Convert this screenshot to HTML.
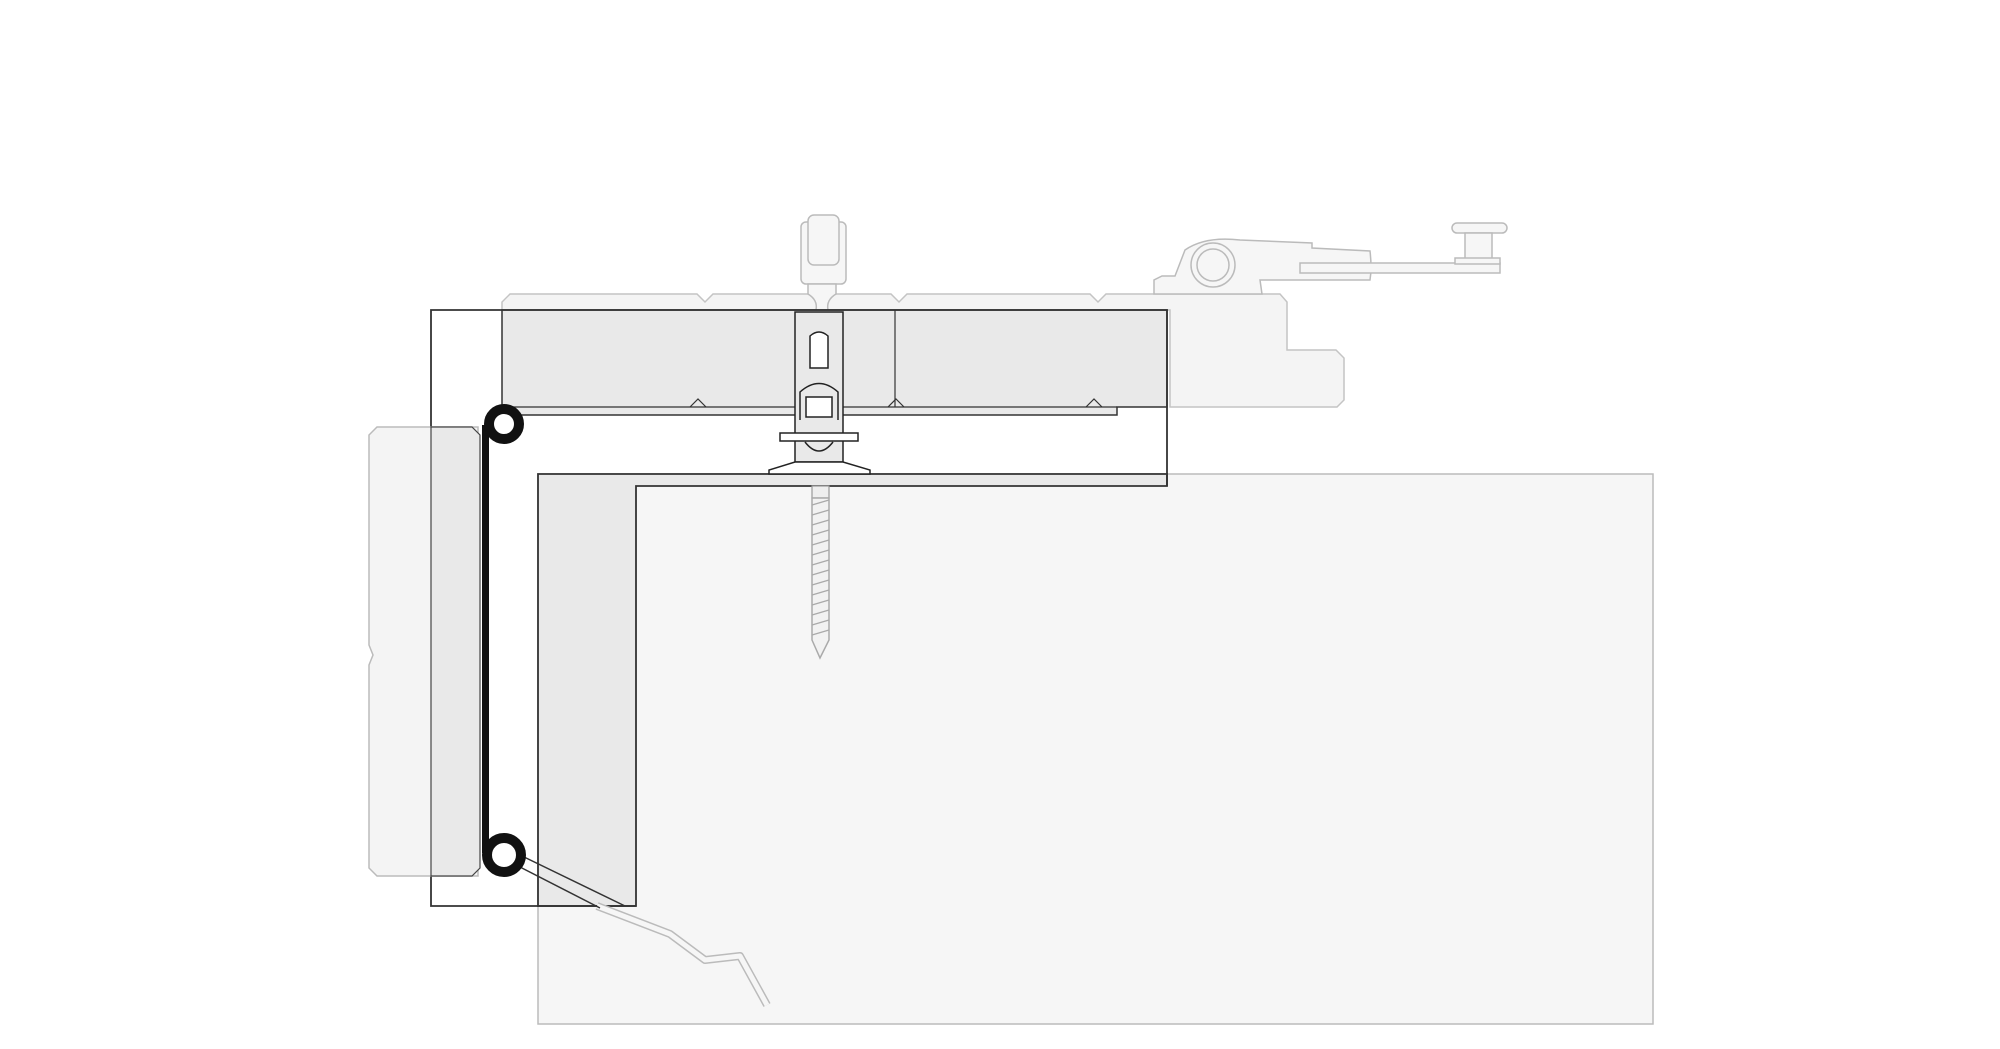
<!DOCTYPE html>
<html><head><meta charset="utf-8"><style>html,body{margin:0;padding:0;background:#fff}svg{display:block}</style></head>
<body>
<svg width="2000" height="1049" viewBox="0 0 2000 1049" xmlns="http://www.w3.org/2000/svg">
<!-- big light wall -->
<rect x="538" y="474" width="1115" height="550" fill="#f6f6f6" stroke="#bbb" stroke-width="1.5"/>
<!-- ghost top panel -->
<path d="M510 294 L697 294 L705 302 L713 294 L891 294 L899 302 L907 294 L1090 294 L1098 302 L1106 294 L1280 294 L1287 302 L1287 350 L1336 350 L1344 358 L1344 400 L1337 407 L1170 407 L1170 310 L502 310 L502 302 Z" fill="#f4f4f4" stroke="#c4c4c4" stroke-width="1.5"/>
<!-- hinge ghost -->
<g fill="#f6f6f6" stroke="#bbb" stroke-width="1.5">
<path d="M1154 294 L1154 280 L1162 276 L1175 276 L1185 250 Q1205 236 1240 240 L1312 243 L1312 248 L1370 251 Q1372 268 1370 280 L1260 280 L1262 294 Z"/>
<circle cx="1213" cy="265" r="22"/><circle cx="1213" cy="265" r="16"/>
<rect x="1300" y="263" width="200" height="10"/>
<rect x="1452" y="223" width="55" height="10" rx="5"/>
<rect x="1465" y="233" width="27" height="28"/>
<rect x="1455" y="258" width="45" height="6"/>
<rect x="801" y="222" width="45" height="62" rx="5"/>
<rect x="808" y="215" width="31" height="50" rx="6"/>
<path d="M808 284 L836 284 L836 294 Q826 300 828 310 L816 310 Q818 300 808 294 Z"/>
</g>
<!-- top panel dark -->
<path d="M502 310 L1167 310 L1167 407 L1117 407 L1117 415 L510 415 L502 407 Z" fill="#e9e9e9" stroke="#333" stroke-width="1.5"/>
<line x1="502" y1="407" x2="1117" y2="407" stroke="#333" stroke-width="1.2"/>
<path d="M690 407 L698 399 L706 407 M888 407 L896 399 L904 407 M1086 407 L1094 399 L1102 407" fill="none" stroke="#333" stroke-width="1.2"/>
<line x1="895" y1="310" x2="895" y2="407" stroke="#333" stroke-width="1.2"/>
<!-- inner L -->
<path d="M538 474 L1167 474 L1167 486 L636 486 L636 906 L538 906 Z" fill="#e9e9e9" stroke="#333" stroke-width="1.8"/>
<!-- outer frame (open) -->
<path d="M1167 486 L1167 310 L431 310 L431 906 L636 906" fill="none" stroke="#333" stroke-width="1.8"/>
<!-- left ghost panel -->
<path d="M377 427 L478 427 L478 876 L377 876 L369 868 L369 665 L373 655 L369 645 L369 435 Z" fill="#f4f4f4" stroke="#bbb" stroke-width="1.5"/>
<path d="M431 427 L472 427 L480 435 L480 868 L472 876 L431 876 Z" fill="#e9e9e9" stroke="#444" stroke-width="1.2"/>
<!-- spring wire ghost -->
<path d="M597 906 L670 934 L705 960 L740 956 L767 1005" fill="none" stroke="#bbb" stroke-width="8" stroke-linejoin="round"/>
<path d="M597 906 L670 934 L705 960 L740 956 L767 1005" fill="none" stroke="#f6f6f6" stroke-width="5" stroke-linejoin="round"/>
<path d="M522 856 L625 906 M518 866 L600 908" stroke="#333" stroke-width="1.5" fill="none"/>
<!-- black bar & circles -->
<rect x="482" y="425" width="7" height="428" fill="#111"/>
<circle cx="504" cy="424" r="15" fill="#fff" stroke="#111" stroke-width="10"/>
<circle cx="504" cy="855" r="17" fill="#fff" stroke="#111" stroke-width="10"/>
<!-- bracket -->
<g fill="#e9e9e9" stroke="#222" stroke-width="1.5">
<rect x="795" y="312" width="48" height="150" fill="#e9e9e9"/>
<path d="M810 368 L810 336 Q819 328 828 336 L828 368 Z" fill="#fff"/>
<path d="M800 420 L800 392 Q819 375 838 392 L838 420" fill="none"/>
<rect x="806" y="397" width="26" height="20" fill="#fff"/>
<rect x="780" y="433" width="78" height="8" fill="#fff"/>
<path d="M805 442 Q819 460 833 442" fill="none"/>
<path d="M795 462 L843 462 L870 470 L870 474 L769 474 L769 470 Z" fill="#fff"/>
</g>
<!-- screw -->
<rect x="812" y="486" width="17" height="12" fill="#eee" stroke="#999" stroke-width="1.2"/>
<path d="M812 498 L829 498 L829 640 L820 658 L812 640 Z" fill="#f2f2f2" stroke="#aaa" stroke-width="1.5"/>
<path d="M812 505 L829 500 M812 515 L829 510 M812 525 L829 520 M812 535 L829 530 M812 545 L829 540 M812 555 L829 550 M812 565 L829 560 M812 575 L829 570 M812 585 L829 580 M812 595 L829 590 M812 605 L829 600 M812 615 L829 610 M812 625 L829 620 M812 635 L829 630" stroke="#aaa" stroke-width="1.2"/>
</svg>
</body></html>
